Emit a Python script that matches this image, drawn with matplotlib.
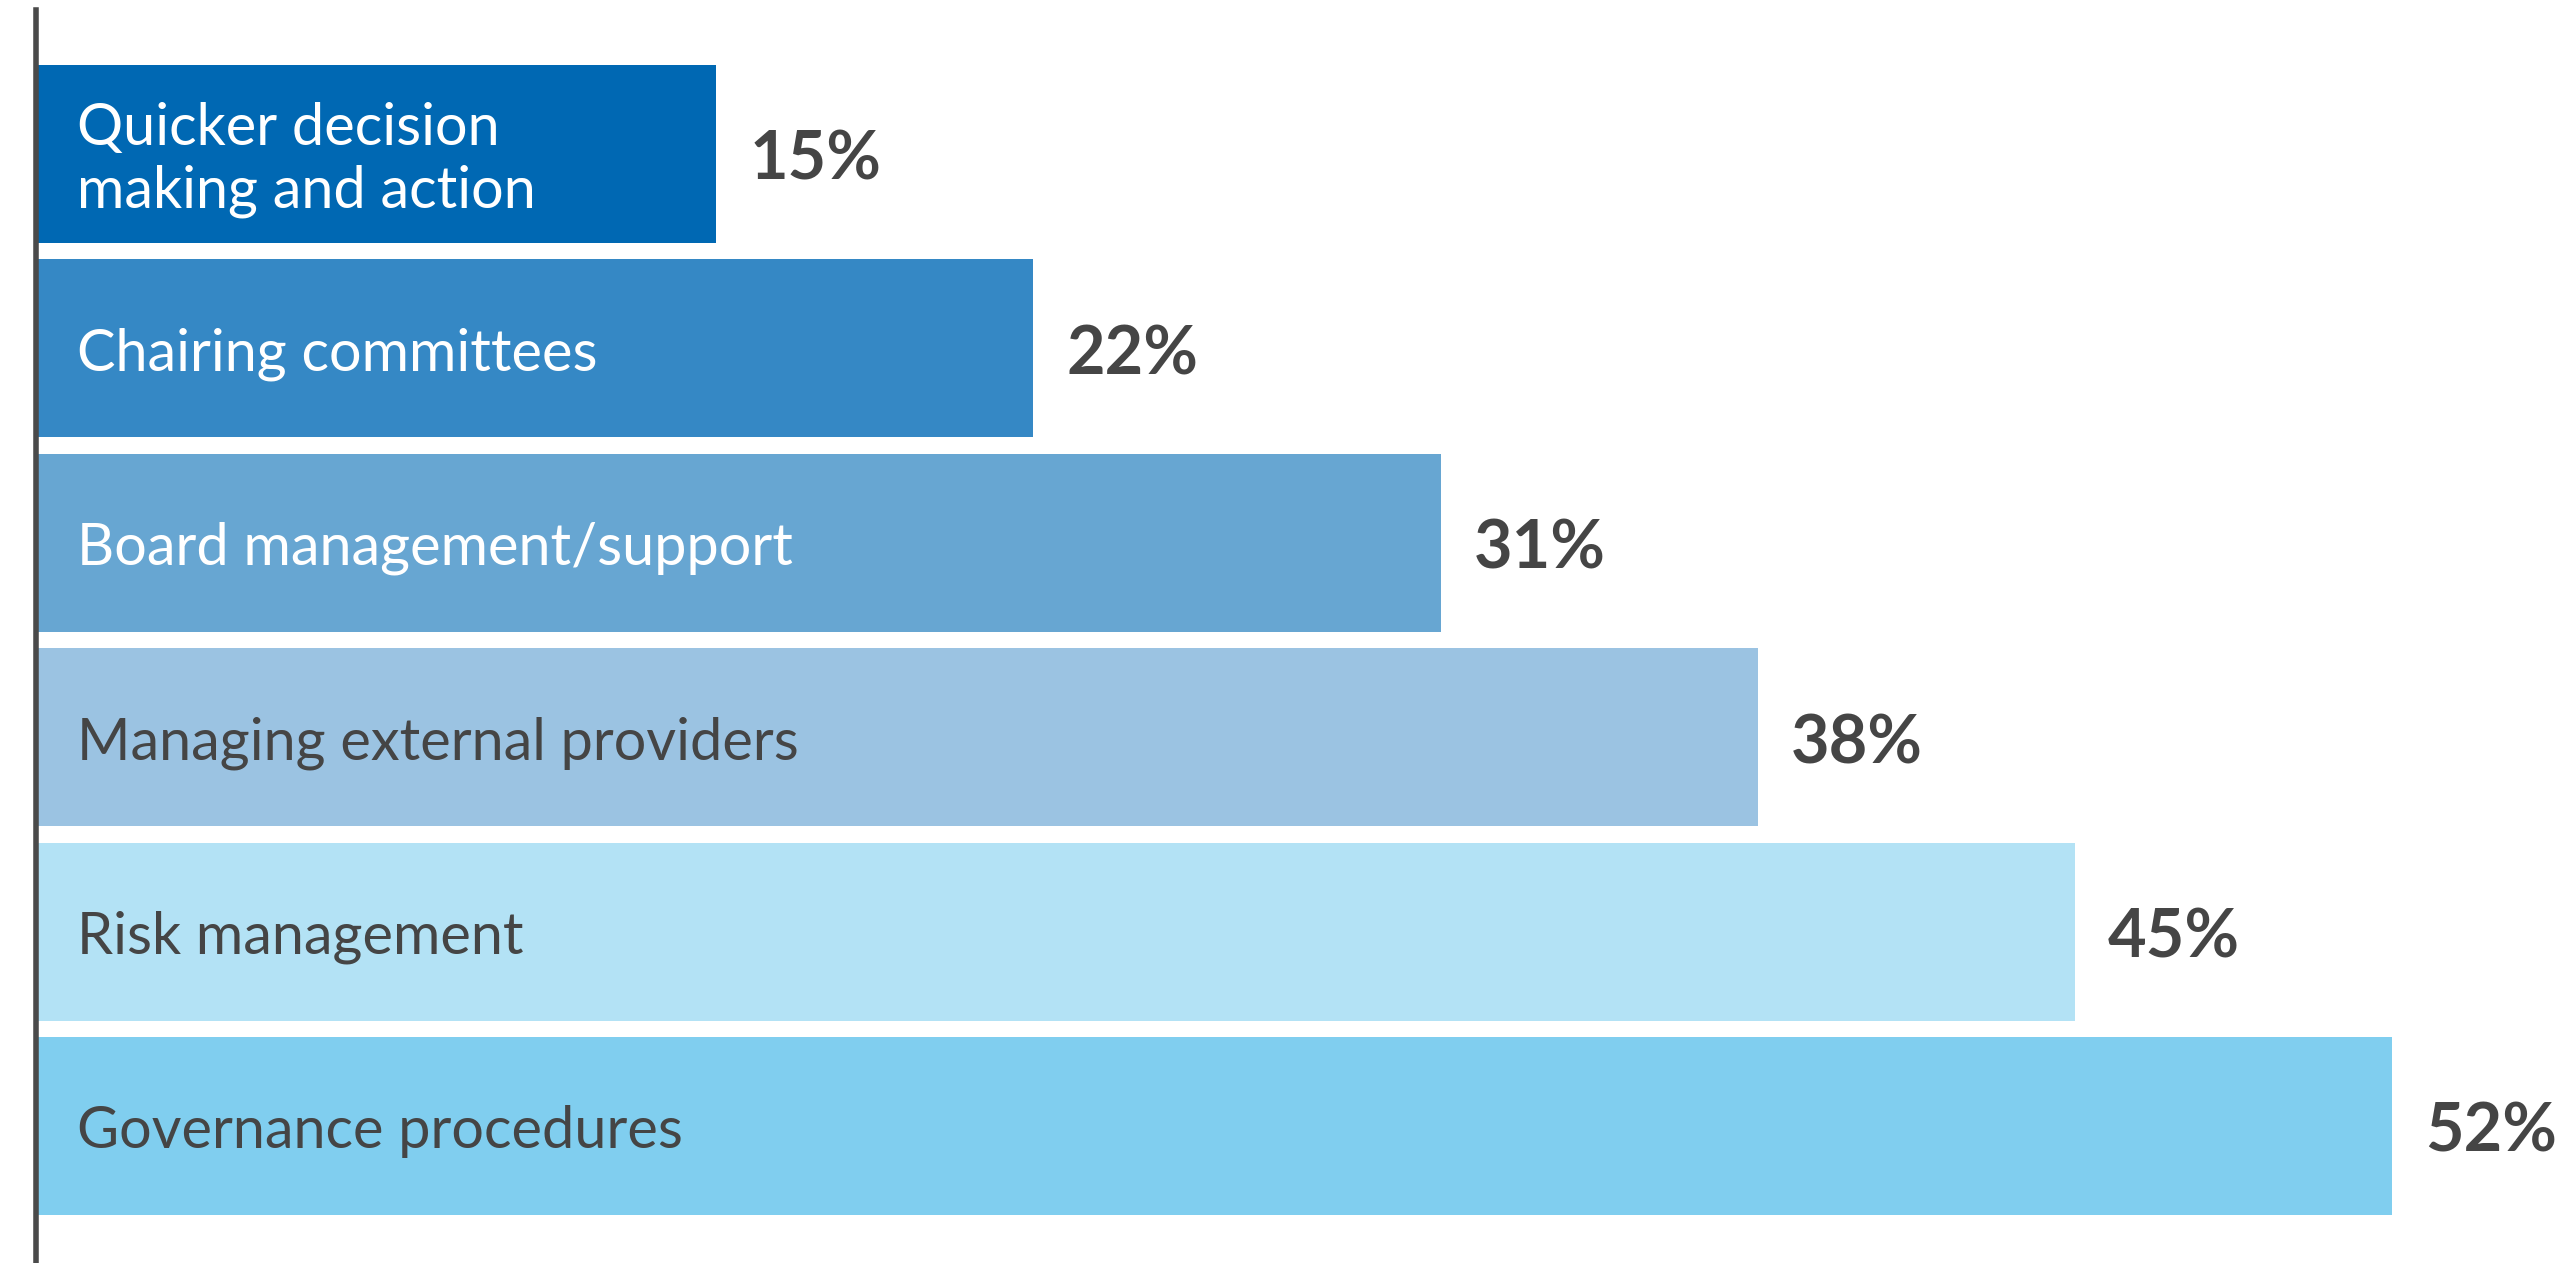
import matplotlib
matplotlib.use("Agg")
import matplotlib.pyplot as plt

categories = [
    "Quicker decision\nmaking and action",
    "Chairing committees",
    "Board management/support",
    "Managing external providers",
    "Risk management",
    "Governance procedures",
]
values = [15, 22, 31, 38, 45, 52]
value_labels = ["15%", "22%", "31%", "38%", "45%", "52%"]

bar_colors = ["#0068B3", "#3588C5", "#67A6D2", "#9BC3E2", "#B3E2F5", "#80CEEF"]
text_colors = ["white", "white", "white", "#454545", "#454545", "#454545"]
dark = "#454545"

W, H, DPI = 2570, 1263, 100
fig = plt.figure(figsize=(W / DPI, H / DPI), dpi=DPI)
ax = fig.add_axes([0, 0, 1, 1])

# pixel-based layout of the value axis and bar slots
px_per_unit = 45.29
x0_px = 37
pitch_px = 194.4
first_center_px = 154

ax.set_xlim(-x0_px / px_per_unit, (W - x0_px) / px_per_unit)
ax.set_ylim((H - first_center_px) / pitch_px, -first_center_px / pitch_px)

ypos = list(range(len(categories)))
ax.barh(ypos, values, height=178 / pitch_px, color=bar_colors, left=0, zorder=2)

label_x = 40 / px_per_unit
gap = 33 / px_per_unit
for y, cat, val, vlab, tc in zip(ypos, categories, values, value_labels, text_colors):
    ax.text(label_x, y + 0.03, cat, ha="left", va="center", color=tc,
            fontsize=41.5, family="Lato", fontweight="normal",
            linespacing=1.22, zorder=3)
    ax.text(val + gap, y + 0.035, vlab, ha="left", va="center", color=dark,
            fontsize=48, family="Lato", fontweight="bold", zorder=3)

# vertical baseline at zero
ax.axvline(-1.5 / px_per_unit, ymin=0, ymax=1 - 10 / H, color="#4a4a4a",
           linewidth=4.0, zorder=4)

ax.axis("off")
fig.savefig("out.png", dpi=DPI, facecolor="white")
